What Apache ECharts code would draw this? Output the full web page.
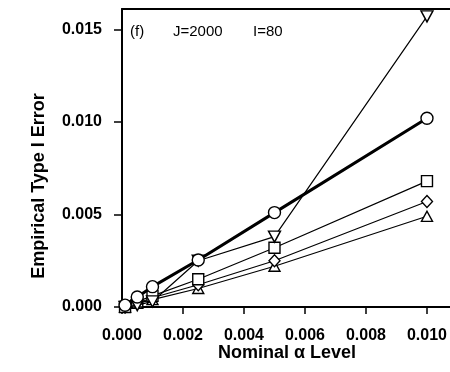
<!DOCTYPE html>
<html>
<head>
<meta charset="utf-8">
<script src="https://cdn.jsdelivr.net/npm/echarts@6/dist/echarts.min.js"></script>
<style>
html,body{margin:0;padding:0;background:#fff;}
#chart{width:450px;height:372px;}
</style>
</head>
<body>
<div id="chart"></div>
<script>
const nominal = [0.0001, 0.0005, 0.001, 0.0025, 0.005, 0.010];
const circleVals   = [0.0001, 0.00054, 0.0011, 0.00254, 0.0051, 0.0102];
const triDownVals  = [0.0000, 0.0001, 0.0003, 0.0025, 0.0038, 0.0157];
const squareVals   = [0.0000, 0.0003, 0.0006, 0.0015, 0.0032, 0.0068];
const diamondVals  = [0.0000, 0.0002, 0.0005, 0.0012, 0.0025, 0.0057];
const triUpVals    = [0.0000, 0.0002, 0.0004, 0.0010, 0.0022, 0.0049];
const xTicks = [0, 0.002, 0.004, 0.006, 0.008, 0.010];
const yTicks = [0, 0.005, 0.010, 0.015];

const chart = echarts.init(document.getElementById('chart'), null, {renderer:'canvas'});
const font = 'Liberation Sans, Arial, Helvetica, sans-serif';
function pairs(v){ return nominal.map((x,i)=>[x, v[i]]); }
function mk(name, vals, symbol, size, lw, rot, z){
  return {
    name, type:'line', data:pairs(vals), symbol, symbolSize:size, symbolRotate:rot||0,
    showAllSymbol:true, z:z,
    lineStyle:{color:'#000', width:lw},
    itemStyle:{color:'#fff', borderColor:'#000', borderWidth:1.4},
    emphasis:{disabled:true}, animation:false
  };
}
chart.setOption({
  animation:false,
  grid:{left:122, right:0, top:9, bottom:65},
  xAxis:[{
    type:'value', min:0, max:0.01075,
    axisLine:{show:true, lineStyle:{color:'#000', width:2}},
    axisTick:{show:true, length:7, customValues:xTicks, lineStyle:{color:'#000', width:1.5}},
    axisLabel:{customValues:xTicks, margin:21, color:'#000', fontFamily:font, fontSize:16, fontWeight:'bold',
      formatter:v=>v.toFixed(3)},
    splitLine:{show:false}
  },{
    type:'value', min:0, max:0.01075, position:'top',
    axisLine:{show:true, onZero:false, lineStyle:{color:'#000', width:2}},
    axisTick:{show:false}, axisLabel:{show:false}, splitLine:{show:false}
  }],
  yAxis:{
    type:'value', min:0, max:0.0161,
    axisLine:{show:true, lineStyle:{color:'#000', width:2}},
    axisTick:{show:true, length:8, customValues:yTicks, lineStyle:{color:'#000', width:1.5}},
    axisLabel:{customValues:yTicks, margin:20, color:'#000', fontFamily:font, fontSize:16, fontWeight:'bold',
      formatter:v=>v.toFixed(3)},
    splitLine:{show:false}
  },
  graphic:[
    {type:'text', left:130, top:24, style:{text:'(f)', font:'15px '+font, fill:'#000'}},
    {type:'text', left:173, top:24, style:{text:'J=2000', font:'15px '+font, fill:'#000'}},
    {type:'text', left:253, top:24, style:{text:'I=80', font:'15px '+font, fill:'#000'}},
    {type:'text', x:39, y:186, rotation:Math.PI/2,
      style:{text:'Empirical Type I Error', font:'bold 18px '+font, fill:'#000', align:'center', verticalAlign:'middle'}},
    {type:'text', x:287, y:353,
      style:{text:'Nominal \u03B1 Level', font:'bold 18px '+font, fill:'#000', align:'center', verticalAlign:'middle'}}
  ],
  series:[
    mk('triUp', triUpVals, 'triangle', [11,10], 1.2, 0, 2),
    mk('diamond', diamondVals, 'diamond', [11,12], 1.2, 0, 3),
    mk('square', squareVals, 'rect', 11, 1.2, 0, 4),
    mk('triDown', triDownVals, 'triangle', [12,11], 1.2, 180, 5),
    mk('circle', circleVals, 'circle', 12, 3, 0, 6)
  ]
});
</script>
</body>
</html>
